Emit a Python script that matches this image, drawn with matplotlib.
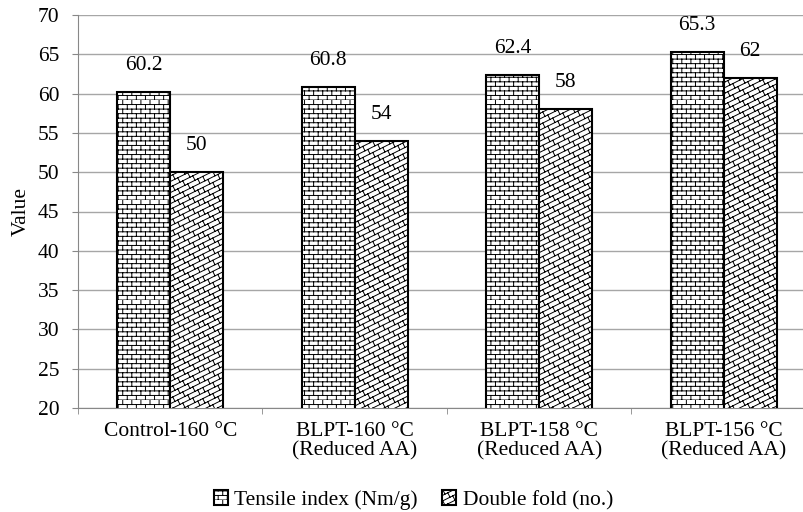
import warnings
import numpy as np
import matplotlib
matplotlib.use("Agg")
import matplotlib.pyplot as plt
import matplotlib.hatch as mhatch
from matplotlib.path import Path

warnings.filterwarnings("ignore")

categories = ["Control-160 °C", "BLPT-160 °C\n(Reduced AA)",
              "BLPT-158 °C\n(Reduced AA)", "BLPT-156 °C\n(Reduced AA)"]
tensile = [60.2, 60.8, 62.4, 65.3]
double_fold = [50, 54, 58, 62]
series_names = ["Tensile index (Nm/g)", "Double fold (no.)"]
yticks = np.arange(20, 71, 5)


# brick fills like the office chart patterns, registered as extra hatch types
class SegmentHatch(mhatch.HatchPatternBase):
    char = None

    def __init__(self, hatch, density):
        if hatch.count(self.char):
            self.segs = np.asarray(self.build(), float).reshape(-1, 2, 2)
        else:
            self.segs = np.empty((0, 2, 2))
        self.num_vertices = len(self.segs) * 2

    def set_vertices_and_codes(self, vertices, codes):
        vertices[:] = self.segs.reshape(-1, 2)
        codes[0::2] = Path.MOVETO
        codes[1::2] = Path.LINETO


class BrickHatch(SegmentHatch):
    char = "b"

    def build(self):
        rows, cols = 22, 11
        segs = []
        for i in range(rows):
            y0, y1 = i / rows, (i + 1) / rows
            segs.append([(0, y0), (1, y0)])
            for j in range(cols + 1):
                x = (j + 0.5 * (i % 2)) / cols
                segs.append([(x, y0), (x, y1)])
        return segs


class DiagBrickHatch(SegmentHatch):
    char = "d"

    def build(self):
        n, m, s = 18, 10, 0.5
        d = 0.6 / ((1 + s) * n)
        segs = []
        for k in range(-n, 2 * n):
            c = k / n
            segs.append([(0, c), (1, c + s)])
            for j in range(-1, m + 2):
                x = (j + 0.5 * (k % 2)) / m
                # short steep link up to the next line
                x1 = x - d
                segs.append([(x, s * x + c), (x1, c + 1 / n + s * x1)])
        return segs


mhatch._hatch_types.extend([BrickHatch, DiagBrickHatch])

plt.rcParams["font.family"] = ["Liberation Serif", "DejaVu Serif"]
plt.rcParams["hatch.linewidth"] = 0.7

fs = 15.5

fig = plt.figure(figsize=(8.04, 5.12), dpi=100)
ax = fig.add_axes([78 / 804, 104 / 512, 726 / 804, 393 / 512])

x = np.arange(len(categories))
w = 0.287
b1 = ax.bar(x - w / 2, tensile, w, color="white", edgecolor="black",
            linewidth=1.5, hatch="b", label=series_names[0], zorder=3)
b2 = ax.bar(x + w / 2, double_fold, w, color="white", edgecolor="black",
            linewidth=1.5, hatch="d", label=series_names[1], zorder=3)

for bars, vals in [(b1, tensile), (b2, double_fold)]:
    for r, v in zip(bars, vals):
        ax.annotate(f"{v:g}", (r.get_x() + r.get_width() / 2, v),
                    xytext=(0, 19), textcoords="offset points",
                    ha="center", va="center", fontsize=fs)

ax.set_ylim(20, 70)
ax.set_yticks(yticks)
ax.set_xlim(-0.5, 3.435)
ax.set_xticks(x)
ax.set_xticklabels(categories, fontsize=fs, linespacing=1.0)
ax.set_xticks(np.arange(-0.5, 3.5, 1), minor=True)
ax.tick_params(axis="x", which="major", length=0, pad=10)
ax.tick_params(axis="x", which="minor", length=4.5, color="#888888")
ax.tick_params(axis="y", length=4.5, color="#888888", pad=9, labelsize=fs)
ax.set_ylabel("Value", fontsize=fs, labelpad=5)

ax.grid(axis="y", color="#a6a6a6", linewidth=1.0, zorder=0)
ax.set_axisbelow(True)
for side in ["top", "right"]:
    ax.spines[side].set_visible(False)
for side in ["left", "bottom"]:
    ax.spines[side].set_color("#888888")

ax.legend(loc="center", bbox_to_anchor=(0.462, -0.235), ncol=2, frameon=False,
          fontsize=fs, handlelength=0.65, handleheight=0.65, handletextpad=0.3,
          columnspacing=1.15)

fig.savefig("out.png", dpi=100)
